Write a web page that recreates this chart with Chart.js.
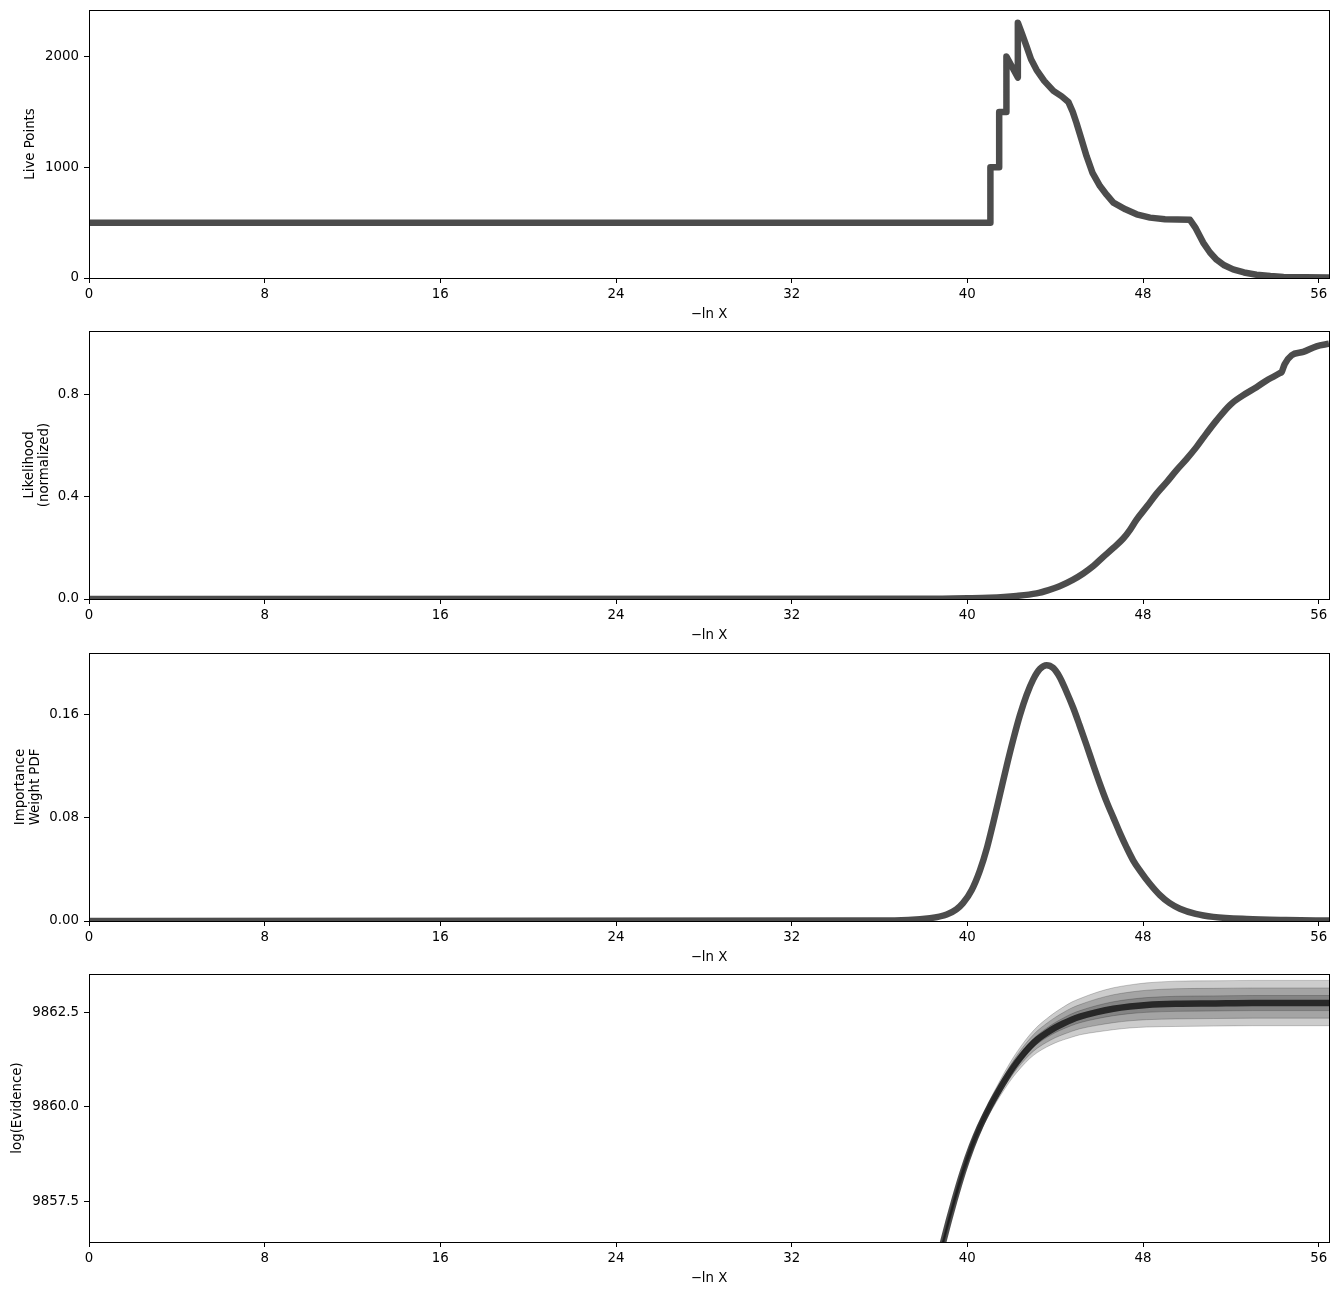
<!DOCTYPE html>
<html><head><meta charset="utf-8">
<script src="https://cdn.jsdelivr.net/npm/chart.js@4.4.0/dist/chart.umd.min.js"></script>
<style>
html,body{margin:0;padding:0;background:#fff;}
#wrap{position:relative;width:1338px;height:1296px;background:#fff;overflow:hidden;}
canvas{position:absolute;left:0;}
</style></head><body>
<div id="wrap">
<canvas id="c1" width="1338" height="321" style="top:0px;width:1338px;height:321px"></canvas>
<canvas id="c2" width="1338" height="321" style="top:321px;width:1338px;height:321px"></canvas>
<canvas id="c3" width="1338" height="321" style="top:643px;width:1338px;height:321px"></canvas>
<canvas id="c4" width="1338" height="321" style="top:964px;width:1338px;height:321px"></canvas>
</div>
<script>
// ---------- shared x axis ----------
const xTicks = [0, 8, 16, 24, 32, 40, 48, 56];
const xMin = 0, xMax = 56.47;
const xTitle = '\u2212ln X';

// ---------- panel 1: live points ----------
const lnX1 = [0, 41.05, 41.05, 41.45, 41.45, 41.78, 41.78, 42.3, 42.3, 42.5, 42.7, 42.9, 43.15, 43.5, 43.92, 44.3, 44.6, 44.8, 44.97, 45.2, 45.43, 45.7, 46.04, 46.35, 46.65, 47.2, 47.71, 48.32, 49.0, 50.14, 50.4, 50.74, 51.05, 51.35, 51.7, 52.1, 52.6, 53.17, 53.8, 54.4, 55.4, 56.5];
const livePoints = [500, 500, 1000, 1000, 1500, 1500, 2000, 1810, 2305, 2200, 2090, 1975, 1880, 1780, 1690, 1640, 1590, 1500, 1400, 1250, 1100, 950, 830, 750, 680, 620, 575, 545, 530, 525, 450, 320, 230, 165, 115, 78, 50, 30, 18, 10, 6, 4];
const yTicks1 = [0, 1000, 2000];

// ---------- panel 2: likelihood (normalized) ----------
const lnX2 = [0, 38, 40, 41, 42.24, 43.15, 43.7, 44.2, 44.8, 45.28, 45.75, 46.19, 46.65, 47.1, 47.4, 47.7, 48.2, 48.62, 49.1, 49.53, 50.0, 50.44, 50.9, 51.35, 51.96, 52.5, 53.17, 53.7, 54.24, 54.32, 54.45, 54.77, 55.3, 55.9, 56.47];
const likelihood = [0, 0.001, 0.003, 0.005, 0.012, 0.022, 0.035, 0.05, 0.075, 0.10, 0.13, 0.165, 0.20, 0.237, 0.27, 0.31, 0.365, 0.413, 0.46, 0.505, 0.55, 0.596, 0.65, 0.70, 0.76, 0.795, 0.83, 0.86, 0.885, 0.89, 0.92, 0.955, 0.968, 0.99, 1.0];
const yTicks2 = [0, 0.4, 0.8];

// ---------- panel 3: importance weight PDF ----------
const lnX3 = [0, 36, 38.3, 39.06, 39.5, 39.81, 40.2, 40.57, 40.9, 41.18, 41.5, 41.79, 42.1, 42.39, 42.7, 43.0, 43.3, 43.61, 43.9, 44.2, 44.5, 44.82, 45.1, 45.43, 45.75, 46.04, 46.35, 46.65, 46.95, 47.25, 47.55, 47.86, 48.3, 48.77, 49.2, 49.68, 50.4, 51.2, 52.72, 54.5, 56.5];
const weightPdf = [0, 0.0003, 0.0022, 0.005, 0.009, 0.014, 0.024, 0.039, 0.057, 0.076, 0.099, 0.120, 0.141, 0.159, 0.175, 0.187, 0.195, 0.198, 0.196, 0.189, 0.178, 0.165, 0.152, 0.136, 0.120, 0.106, 0.092, 0.080, 0.068, 0.057, 0.047, 0.039, 0.029, 0.020, 0.014, 0.0095, 0.0055, 0.0032, 0.0015, 0.0007, 0.0003];
const yTicks3 = [0, 0.08, 0.16];

// ---------- panel 4: log evidence ----------
const lnX4 = [36, 38, 38.9, 39.4, 39.81, 40.2, 40.57, 41.0, 41.33, 41.7, 42.09, 42.45, 42.85, 43.2, 43.61, 44.0, 44.37, 44.75, 45.13, 45.9, 46.65, 47.4, 48.17, 49.5, 51.2, 53, 56.5];
const logZ = [9849.0, 9854.3, 9856.42, 9857.5, 9858.3, 9858.95, 9859.47, 9859.98, 9860.33, 9860.70, 9861.05, 9861.33, 9861.60, 9861.79, 9861.96, 9862.10, 9862.21, 9862.31, 9862.39, 9862.51, 9862.60, 9862.66, 9862.70, 9862.73, 9862.74, 9862.75, 9862.75];
const logZErr = [0.02, 0.03, 0.035, 0.04, 0.045, 0.05, 0.055, 0.06, 0.065, 0.075, 0.085, 0.095, 0.105, 0.115, 0.125, 0.135, 0.145, 0.155, 0.16, 0.175, 0.185, 0.19, 0.195, 0.2, 0.2, 0.2, 0.2];
const yTicks4 = [9857.5, 9860.0, 9862.5];

// ---------- styling ----------
Chart.defaults.font.family = "'DejaVu Sans', sans-serif";
Chart.defaults.font.size = 13.33;
Chart.defaults.color = '#000';

const LINE = 'rgba(0,0,0,0.7)';
const BAND = 'rgba(0,0,0,0.2)';

const framePlugin = {
  id: 'frame',
  afterDatasetsDraw(chart) {
    const {ctx, chartArea: a} = chart;
    const l = Math.round(a.left), t = Math.round(a.top), r = Math.round(a.right), b = Math.round(a.bottom);
    ctx.save();
    ctx.strokeStyle = '#000';
    ctx.lineWidth = 1;
    ctx.strokeRect(l + 0.5, t + 0.5, r - l, b - t);
    ctx.restore();
  }
};

function pts(xs, ys) { return xs.map((x, i) => ({x: x, y: ys[i]})); }

function makePanel(id, datasets, yMin, yMax, yTickVals, fmt, yTitle, titlePad) {
  return new Chart(document.getElementById(id), {
    type: 'line',
    data: {datasets: datasets},
    plugins: [framePlugin],
    options: {
      responsive: false,
      animation: false,
      devicePixelRatio: 1,
      layout: {padding: {top: 10, left: 0, right: 9, bottom: 0}},
      plugins: {legend: {display: false}, tooltip: {enabled: false}},
      elements: {point: {radius: 0}},
      scales: {
        x: {
          type: 'linear', min: xMin, max: xMax,
          afterBuildTicks: s => { s.ticks = xTicks.map(v => ({value: v})); },
          afterFit: s => { s.height = 43; s.paddingLeft = 0; s.paddingRight = 0; },
          grid: {display: true, drawOnChartArea: false, drawTicks: true, tickLength: 5, color: '#000', lineWidth: 1},
          border: {display: false},
          ticks: {padding: 4, maxRotation: 0, autoSkip: false, callback: v => String(v)},
          title: {display: true, text: xTitle, padding: {top: 0, bottom: 0}, font: {size: 13.33, lineHeight: 1.0}}
        },
        y: {
          type: 'linear', min: yMin, max: yMax,
          afterBuildTicks: s => { s.ticks = yTickVals.map(v => ({value: v})); },
          afterFit: s => { s.width = 89; s.paddingTop = 0; s.paddingBottom = 0; },
          grid: {display: true, drawOnChartArea: false, drawTicks: true, tickLength: 5, color: '#000', lineWidth: 1},
          border: {display: false},
          ticks: {padding: 5, autoSkip: false, callback: v => fmt(v)},
          title: {display: true, text: yTitle, padding: {top: titlePad, bottom: 0}, font: {size: 13.33, lineHeight: 1.1}}
        }
      }
    }
  });
}

function mainLine(xs, ys, smooth) {
  return {
    data: pts(xs, ys), borderColor: LINE, borderWidth: 6.5, fill: false, clip: 0,
    borderJoinStyle: 'round', borderCapStyle: 'butt',
    tension: 0, cubicInterpolationMode: smooth ? 'monotone' : 'default'
  };
}

makePanel('c1', [mainLine(lnX1, livePoints, false)], 0, 2420, yTicks1, v => String(v), 'Live Points', 23.2);
makePanel('c2', [mainLine(lnX2, likelihood, true)], 0, 1.05, yTicks2, v => v.toFixed(1), ['Likelihood', '(normalized)'], 22.2);
makePanel('c3', [mainLine(lnX3, weightPdf, true)], 0, 0.2074, yTicks3, v => v.toFixed(2), ['Importance', 'Weight PDF'], 13.2);

const ds4 = [mainLine(lnX4, logZ, true)];
[1, 2, 3].forEach(k => {
  ds4.push({data: pts(lnX4, logZ.map((v, i) => v + k * logZErr[i])), borderColor: BAND, borderWidth: 1, backgroundColor: BAND, fill: '+1', clip: 0, cubicInterpolationMode: 'monotone'});
  ds4.push({data: pts(lnX4, logZ.map((v, i) => v - k * logZErr[i])), borderColor: BAND, borderWidth: 1, backgroundColor: BAND, fill: false, clip: 0, cubicInterpolationMode: 'monotone'});
});
makePanel('c4', ds4, 9856.42, 9863.52, yTicks4, v => v.toFixed(1), 'log(Evidence)', 10.2);
</script>
</body></html>
